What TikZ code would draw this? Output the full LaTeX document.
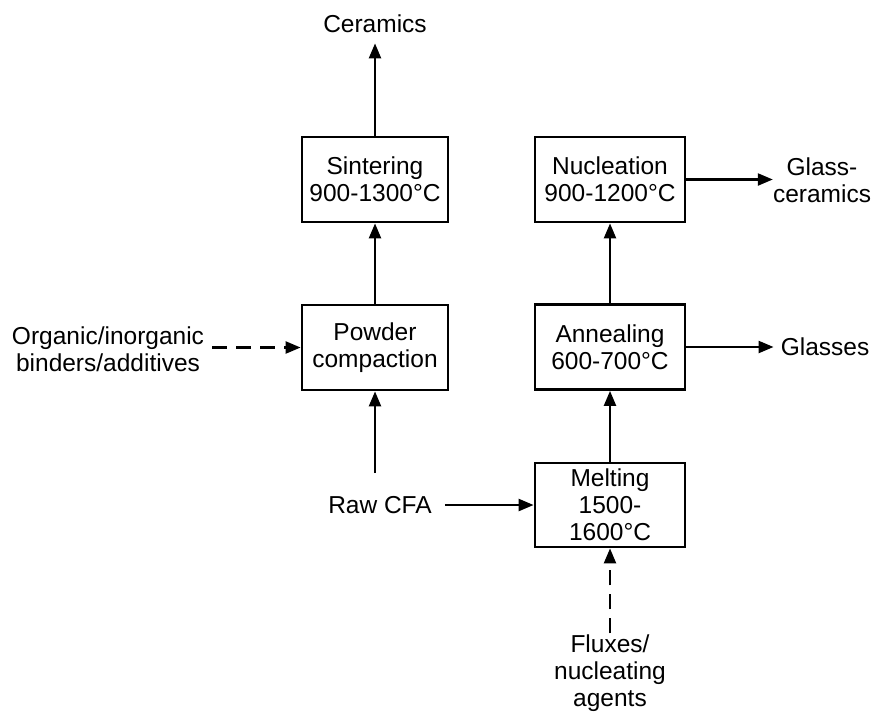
\documentclass[tikz,border=0pt]{standalone}
\usepackage{fontspec}
\setmainfont{Liberation Sans}
\usetikzlibrary{arrows.meta}
\begin{document}
\begin{tikzpicture}[x=1pt,y=-1pt,
  every node/.style={font=\fontsize{24.5}{27}\selectfont, inner sep=0pt, align=center},
  procbox/.style={draw, line width=2.8pt, minimum height=85pt, inner sep=0pt, align=center},
  arr/.style={line width=2.3pt, -{Triangle[length=15pt,width=12pt]}},
  darr/.style={arr, dash pattern=on 15pt off 9pt}]
\useasboundingbox (0,0) rectangle (877,713);
% process boxes
\node[procbox, minimum width=146pt] (sint) at (375,179.5) {Sintering\\900-1300°C};
\node[procbox, minimum width=146pt] (powd) at (375,347.5) {Powder\\compaction};
\node[procbox, minimum width=150pt] (nucl) at (610,179.5) {Nucleation\\900-1200°C};
\node[procbox, minimum width=150pt] (anne) at (610,347) {Annealing\\600-700°C};
\node[procbox, minimum width=150pt, minimum height=84pt] (melt) at (610,505) {Melting\\1500-\\1600°C};
% labels
\node (cer) at (375,23.7) {Ceramics};
\node (gc) at (822,180) {Glass-\\ceramics};
\node (gl) at (825,347) {Glasses};
\node (org) at (108,349) {Organic/inorganic\\binders/additives};
\node (raw) at (380,505) {Raw CFA};
\node (flux) at (610,673) {Fluxes/\\nucleating\\agents};
% connectors
\draw[arr, shorten >=10.5pt] (sint) -- (cer);
\draw[arr] (powd) -- (sint);
\draw[arr, shorten <=23pt] (powd |- raw.north) -- (powd.south);
\draw[darr, shorten <=8pt] (org.east |- powd) -- (powd.west);
\draw[arr, shorten <=13pt] (raw) -- (melt);
\draw[arr] (melt) -- (anne);
\draw[arr] (anne) -- (nucl);
\draw[arr] (nucl.east) -- (nucl.east -| gc.west);
\draw[arr, shorten >=7pt] (anne) -- (gl);
\draw[darr, shorten <=1pt] (flux) -- (melt);
\end{tikzpicture}
\end{document}
